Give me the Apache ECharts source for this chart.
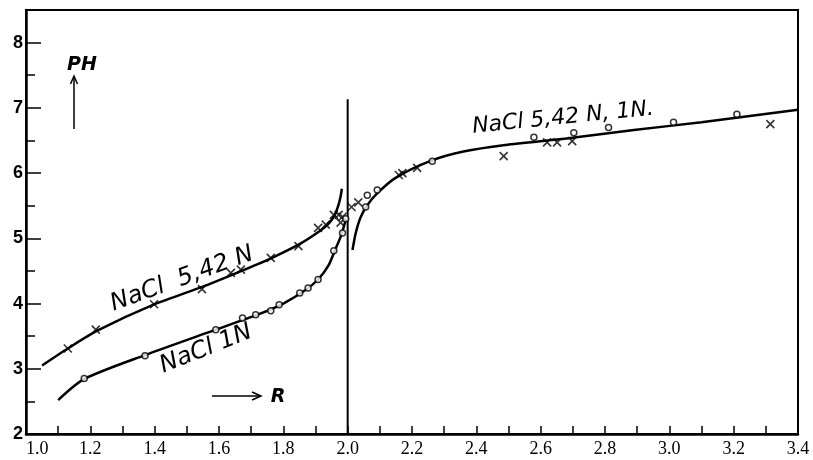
<!DOCTYPE html>
<html>
<head>
<meta charset="utf-8">
<script src="https://cdn.jsdelivr.net/npm/echarts@6/dist/echarts.min.js"></script>
<style>
  html, body { margin: 0; padding: 0; background: #fff; }
  #chart { width: 813px; height: 460px; }
</style>
</head>
<body>
<div id="chart"></div>
<script>
// fitted curves (R, pH)
const curve542Left = [[1.05, 3.05], [1.13, 3.31], [1.22, 3.58], [1.40, 3.99], [1.55, 4.26], [1.65, 4.46],
    [1.76, 4.69], [1.85, 4.91], [1.91, 5.10], [1.94, 5.22], [1.96, 5.36], [1.972, 5.52], [1.978, 5.64], [1.982, 5.76]];
const curve1NLeft = [[1.10, 2.52], [1.18, 2.84], [1.37, 3.21], [1.59, 3.60], [1.72, 3.83], [1.80, 4.00],
    [1.87, 4.21], [1.91, 4.38], [1.94, 4.58], [1.96, 4.81], [1.98, 5.05], [1.995, 5.30]];
const curveRight = [[2.015, 4.82], [2.025, 5.08], [2.04, 5.32], [2.06, 5.50], [2.09, 5.68], [2.15, 5.93],
    [2.26, 6.19], [2.36, 6.33], [2.49, 6.43], [2.68, 6.53], [2.89, 6.66], [3.10, 6.78], [3.40, 6.97]];
const verticalLine = [[2.0, 2.0], [2.0, 7.13]];

// measured points: x = NaCl 5,42 N, o = NaCl 1N
const crossPts = [[1.13, 3.31], [1.217, 3.60], [1.398, 3.99], [1.547, 4.22], [1.637, 4.47], [1.668, 4.52],
    [1.761, 4.70], [1.847, 4.88], [1.908, 5.16], [1.932, 5.21], [1.957, 5.36], [1.972, 5.36], [1.984, 5.33],
    [1.978, 5.24], [2.012, 5.48], [2.033, 5.55], [2.159, 5.97], [2.170, 6.00], [2.216, 6.08], [2.485, 6.26],
    [2.620, 6.47], [2.651, 6.47], [2.698, 6.49], [3.314, 6.75]];
const circlePts = [[1.181, 2.85], [1.370, 3.20], [1.590, 3.60], [1.673, 3.78], [1.714, 3.83], [1.761, 3.89],
    [1.787, 3.98], [1.851, 4.16], [1.877, 4.24], [1.908, 4.37], [1.957, 4.81], [1.984, 5.08], [1.994, 5.30],
    [2.056, 5.48], [2.061, 5.66], [2.092, 5.74], [2.263, 6.18], [2.579, 6.55], [2.703, 6.62], [2.811, 6.70],
    [3.013, 6.78], [3.210, 6.90]];

const chart = echarts.init(document.getElementById('chart'));
const black = '#000';
const handFont = 'italic 24px "DejaVu Sans"';

function curve(data) {
    return { type: 'line', data: data, smooth: 0.25, showSymbol: false, silent: true,
        lineStyle: { color: black, width: 2.5 }, z: 2 };
}

chart.setOption({
    animation: false,
    backgroundColor: '#fff',
    grid: { left: 26, right: 15, top: 10, bottom: 26, show: true, borderColor: black, borderWidth: 2 },
    xAxis: {
        type: 'value', min: 1.0, max: 3.4, interval: 0.2,
        axisLine: { lineStyle: { color: black, width: 2.5 } },
        axisTick: { inside: true, length: 8, lineStyle: { color: black, width: 1.5 } },
        minorTick: { show: true, splitNumber: 2, length: 8, lineStyle: { color: black, width: 1.5 } },
        splitLine: { show: false },
        axisLabel: { color: black, fontFamily: 'Liberation Serif', fontSize: 18, margin: 6,
            alignMinLabel: 'left', formatter: v => v.toFixed(1) }
    },
    yAxis: {
        type: 'value', min: 2, max: 8.5, interval: 1,
        axisLine: { lineStyle: { color: black, width: 2.5 } },
        axisTick: { inside: true, length: 15, lineStyle: { color: black, width: 1.5 } },
        minorTick: { show: true, splitNumber: 2, length: 9, lineStyle: { color: black, width: 1.5 } },
        splitLine: { show: false },
        axisLabel: { color: black, fontFamily: 'Liberation Sans', fontWeight: 'bold', fontSize: 18, margin: 3,
            formatter: v => Number.isInteger(v) && v <= 8 ? String(v) : '' }
    },
    series: [
        curve(curve542Left),
        curve(curve1NLeft),
        curve(curveRight),
        { type: 'line', data: verticalLine, showSymbol: false, silent: true,
          lineStyle: { color: black, width: 2 }, z: 2 },
        { type: 'scatter', data: crossPts, symbol: 'path://M0,0L10,10M10,0L0,10', symbolSize: 8,
          itemStyle: { color: 'none', borderColor: black, borderWidth: 1.6 }, z: 3 },
        { type: 'scatter', data: circlePts, symbol: 'circle', symbolSize: 6,
          itemStyle: { color: '#fff', borderColor: black, borderWidth: 1.5 }, z: 4 }
    ],
    graphic: [
        { type: 'text', x: 82, y: 65, style: { text: 'PH', font: 'italic bold 19px "DejaVu Sans"', fill: black,
          align: 'center', verticalAlign: 'middle' } },
        { type: 'polyline', shape: { points: [[74, 129], [74, 77]] }, style: { stroke: black, lineWidth: 1.5 } },
        { type: 'polyline', shape: { points: [[70.5, 84], [74, 76], [77.5, 84]] }, style: { stroke: black, lineWidth: 1.5, fill: 'none' } },
        { type: 'polyline', shape: { points: [[212, 396], [260, 396]] }, style: { stroke: black, lineWidth: 1.5 } },
        { type: 'polyline', shape: { points: [[252, 392], [261, 396], [252, 400]] }, style: { stroke: black, lineWidth: 1.5, fill: 'none' } },
        { type: 'text', x: 278, y: 397, style: { text: 'R', font: 'italic bold 19px "DejaVu Sans"', fill: black,
          align: 'center', verticalAlign: 'middle' } },
        { type: 'text', x: 182, y: 279, rotation: 0.35, style: { text: 'NaCl  5,42 N', font: handFont, fill: black,
          align: 'center', verticalAlign: 'middle' } },
        { type: 'text', x: 206, y: 349, rotation: 0.38, style: { text: 'NaCl 1N', font: handFont, fill: black,
          align: 'center', verticalAlign: 'middle' } },
        { type: 'text', x: 563, y: 118, rotation: 0.1, style: { text: 'NaCl 5,42 N, 1N.', font: 'italic 22px "DejaVu Sans"', fill: black,
          align: 'center', verticalAlign: 'middle' } }
    ]
});
</script>
</body>
</html>
